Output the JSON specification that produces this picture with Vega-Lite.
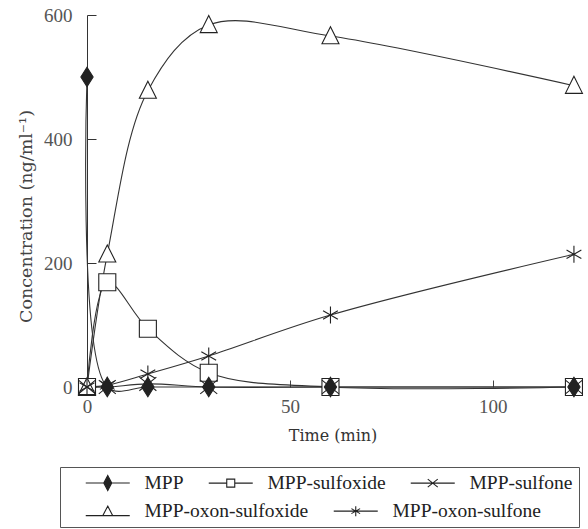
{
  "$schema": "https://vega.github.io/schema/vega-lite/v6.json",
  "autosize": {"type": "none"},
  "width": 491,
  "height": 372,
  "padding": {"left": 87, "top": 15, "right": 10, "bottom": 142},
  "background": "white",
  "config": {
    "view": {"stroke": null},
    "font": "Liberation Serif",
    "legend": {
      "orient": "none", "direction": "horizontal", "columns": 3,
      "padding": 6, "columnPadding": 5,
      "symbolSize": 100, "symbolOffset": 32, "labelOffset": 27, "labelLimit": 400,
      "symbolStrokeWidth": 1.1, "symbolOpacity": 1,
      "labelFont": "Liberation Serif", "labelFontSize": 19.5, "labelColor": "#222"
    }
  },
  "data": {
    "values": [
      {"series": "MPP-sulfoxide", "t": 0, "c": 0},
      {"series": "MPP-sulfoxide", "t": 5, "c": 169},
      {"series": "MPP-sulfoxide", "t": 15, "c": 94},
      {"series": "MPP-sulfoxide", "t": 30, "c": 23},
      {"series": "MPP-sulfoxide", "t": 60, "c": 0},
      {"series": "MPP-sulfoxide", "t": 120, "c": 0},
      {"series": "MPP-oxon-sulfoxide", "t": 0, "c": 0},
      {"series": "MPP-oxon-sulfoxide", "t": 5, "c": 214},
      {"series": "MPP-oxon-sulfoxide", "t": 15, "c": 478},
      {"series": "MPP-oxon-sulfoxide", "t": 30, "c": 584},
      {"series": "MPP-oxon-sulfoxide", "t": 60, "c": 566},
      {"series": "MPP-oxon-sulfoxide", "t": 120, "c": 486},
      {"series": "MPP-sulfone", "t": 0, "c": 0},
      {"series": "MPP-sulfone", "t": 5, "c": 0},
      {"series": "MPP-sulfone", "t": 15, "c": 5},
      {"series": "MPP-sulfone", "t": 30, "c": 0},
      {"series": "MPP-sulfone", "t": 60, "c": 0},
      {"series": "MPP-sulfone", "t": 120, "c": 0},
      {"series": "MPP-oxon-sulfone", "t": 0, "c": 0},
      {"series": "MPP-oxon-sulfone", "t": 5, "c": 3},
      {"series": "MPP-oxon-sulfone", "t": 15, "c": 21},
      {"series": "MPP-oxon-sulfone", "t": 30, "c": 50},
      {"series": "MPP-oxon-sulfone", "t": 60, "c": 116},
      {"series": "MPP-oxon-sulfone", "t": 120, "c": 214},
      {"series": "MPP", "t": 0, "c": 500},
      {"series": "MPP", "t": 5, "c": 0},
      {"series": "MPP", "t": 15, "c": 0},
      {"series": "MPP", "t": 30, "c": 0},
      {"series": "MPP", "t": 60, "c": 0},
      {"series": "MPP", "t": 120, "c": 0}
    ]
  },
  "encoding": {
    "x": {
      "field": "t", "type": "quantitative",
      "scale": {"domain": [0, 121], "nice": false, "zero": false},
      "axis": {
        "title": "Time (min)", "values": [0, 50, 100], "grid": false, "domain": false,
        "tickSize": -7, "tickColor": "#444", "labelPadding": 17, "labelFlush": false,
        "labelFont": "Liberation Serif", "labelFontSize": 19, "labelColor": "#555",
        "titleFont": "DejaVu Serif", "titleFontSize": 16, "titleFontWeight": "normal", "titleColor": "#333",
        "titlePadding": 11
      }
    },
    "y": {
      "field": "c", "type": "quantitative",
      "scale": {"domain": [0, 600], "nice": false},
      "axis": {
        "title": "Concentration (ng/ml⁻¹)", "values": [0, 200, 400, 600], "grid": false,
        "domainColor": "#333", "tickSize": -9, "tickColor": "#333", "labelPadding": 24,
        "labelFont": "Liberation Serif", "labelFontSize": 19, "labelColor": "#555",
        "titleFont": "DejaVu Serif", "titleFontSize": 17.5, "titleFontWeight": "normal", "titleColor": "#444",
        "titlePadding": 8, "titleY": 201
      }
    }
  },
  "layer": [
    {
      "mark": {"type": "line", "interpolate": "catmull-rom", "color": "#333", "strokeWidth": 1.1},
      "encoding": {"detail": {"field": "series"}}
    },
    {
      "mark": {"type": "point", "filled": true, "stroke": "#222", "strokeWidth": 1.1, "opacity": 1},
      "encoding": {
        "shape": {
          "field": "series", "type": "nominal",
          "scale": {
            "domain": ["MPP", "MPP-sulfoxide", "MPP-sulfone", "MPP-oxon-sulfoxide", "MPP-oxon-sulfone"],
            "range": [
              "M0,-1.15L0.72,0L0,1.15L-0.72,0Z",
              "M-1,-1L1,-1L1,1L-1,1Z",
              "M-1,-0.8L1,0.8M-1,0.8L1,-0.8",
              "M0,-1.1L1,0.9L-1,0.9Z",
              "M0,-1L0,1M-0.87,-0.5L0.87,0.5M-0.87,0.5L0.87,-0.5"
            ]
          },
          "legend": null
        },
        "fill": {
          "field": "series", "type": "nominal",
          "scale": {
            "domain": ["MPP", "MPP-sulfoxide", "MPP-sulfone", "MPP-oxon-sulfoxide", "MPP-oxon-sulfone"],
            "range": ["#222", "white", "white", "white", "white"]
          },
          "legend": null
        },
        "size": {"value": 290}
      }
    },
    {
      "transform": [{"filter": "datum.series === 'MPP' || datum.series === 'MPP-sulfoxide' || datum.series === 'MPP-sulfone'"}],
      "mark": {"type": "point", "filled": true, "strokeWidth": 1.1},
      "encoding": {
        "shape": {
          "field": "series", "type": "nominal",
          "scale": {
            "domain": ["MPP", "MPP-sulfoxide", "MPP-sulfone"],
            "range": [
              "M-4.4,0L4.4,0M0,-1.5L0.8,0L0,1.5L-0.8,0Z",
              "M-4.4,0L-0.8,0M0.8,0L4.4,0M-0.8,-0.8L0.8,-0.8L0.8,0.8L-0.8,0.8Z",
              "M-4.4,0L4.4,0M-1,-0.8L1,0.8M-1,0.8L1,-0.8"
            ]
          },
          "legend": {
            "legendX": -27, "legendY": 452, "strokeColor": "#555",
            "title": " ", "titleOrient": "bottom", "titleFontSize": 20, "titlePadding": 8
          }
        },
        "fill": {
          "field": "series", "type": "nominal",
          "scale": {"domain": ["MPP", "MPP-sulfoxide", "MPP-sulfone"], "range": ["#222", "white", "white"]}
        },
        "stroke": {
          "field": "series", "type": "nominal",
          "scale": {"domain": ["MPP", "MPP-sulfoxide", "MPP-sulfone"], "range": ["#222", "#222", "#222"]}
        },
        "size": {"value": 0}
      }
    },
    {
      "transform": [{"filter": "datum.series === 'MPP-oxon-sulfoxide' || datum.series === 'MPP-oxon-sulfone'"}],
      "mark": {"type": "point", "filled": true, "strokeWidth": 1.1},
      "encoding": {
        "shape": {
          "field": "series", "type": "nominal",
          "scale": {
            "domain": ["MPP-oxon-sulfoxide", "MPP-oxon-sulfone"],
            "range": [
              "M-4.4,0.9L4.4,0.9M0,-1L1,0.9L-1,0.9Z",
              "M-4.4,0L4.4,0M0,-1L0,1M-0.87,-0.5L0.87,0.5M-0.87,0.5L0.87,-0.5"
            ]
          },
          "legend": {
            "legendX": -27, "legendY": 480, "title": null
          }
        },
        "fill": {
          "field": "series", "type": "nominal",
          "scale": {"domain": ["MPP-oxon-sulfoxide", "MPP-oxon-sulfone"], "range": ["white", "white"]}
        },
        "stroke": {
          "field": "series", "type": "nominal",
          "scale": {"domain": ["MPP-oxon-sulfoxide", "MPP-oxon-sulfone"], "range": ["#222", "#222"]}
        },
        "size": {"value": 0}
      }
    }
  ],
  "resolve": {
    "scale": {"shape": "independent", "fill": "independent", "stroke": "independent"},
    "legend": {"shape": "independent", "fill": "independent", "stroke": "independent"}
  }
}
